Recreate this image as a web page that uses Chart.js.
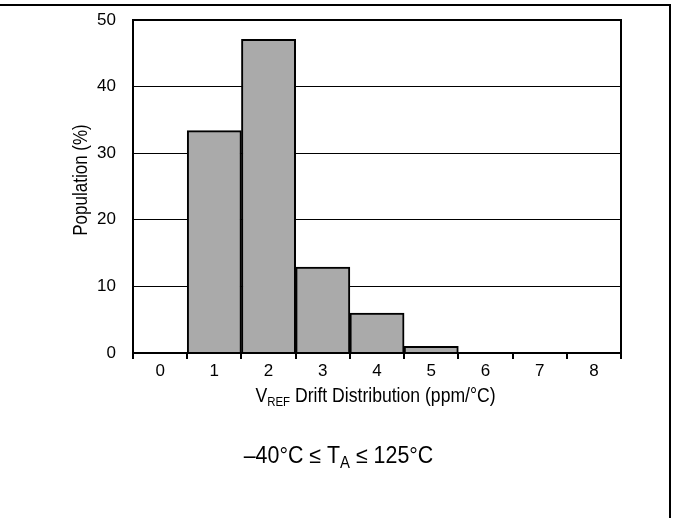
<!DOCTYPE html>
<html lang="en">
<head>
  <meta charset="UTF-8" />
  <title>VREF Drift Distribution</title>
  <script src="https://cdn.jsdelivr.net/npm/chart.js"></script>
  <style>
    * { box-sizing: border-box; margin: 0; padding: 0; }
    html, body { width: 673px; height: 518px; background: #fff; overflow: hidden; }
    canvas { display: block; }
  </style>
</head>
<body>
  <canvas id="drift" width="673" height="518"></canvas>

  <script>
    // data
    const driftBins = ['0', '1', '2', '3', '4', '5', '6', '7', '8'];
    const population = [0, 33.4, 47.1, 12.9, 6.0, 1.0, 0, 0, 0];
    const yTicks = [0, 10, 20, 30, 40, 50];

    const FONT = "'Liberation Sans', Arial, sans-serif";

    // text made of [string, size, baseline shift] pieces, centred on cx,
    // squeezed horizontally by sx (the original uses a narrow face)
    function drawSub(ctx, parts, cx, base, sx) {
      let w = 0;
      parts.forEach(p => { ctx.font = p[1] + 'px ' + FONT; w += ctx.measureText(p[0]).width; });
      ctx.save();
      ctx.translate(cx, base);
      ctx.scale(sx, 1);
      let x = -w / 2;
      ctx.textAlign = 'left';
      ctx.textBaseline = 'alphabetic';
      parts.forEach(p => {
        ctx.font = p[1] + 'px ' + FONT;
        ctx.fillText(p[0], x, p[2]);
        x += ctx.measureText(p[0]).width;
      });
      ctx.restore();
    }

    // frame, plot border, axis titles with subscripts, condition note
    const decor = {
      id: 'decor',
      afterDraw(chart) {
        const { ctx, chartArea: a } = chart;
        ctx.save();
        ctx.strokeStyle = '#000';
        ctx.lineWidth = 2;
        // page frame (top + right)
        ctx.beginPath();
        ctx.moveTo(0, 5);
        ctx.lineTo(670, 5);
        ctx.lineTo(670, 518);
        ctx.stroke();
        // plot box
        ctx.strokeRect(a.left, a.top, a.right - a.left, a.bottom - a.top);

        ctx.fillStyle = '#000';
        ctx.save();
        ctx.translate(87, 180);
        ctx.rotate(-Math.PI / 2);
        drawSub(ctx, [['Population (%)', 20, 0]], 0, 0, 0.85);
        ctx.restore();

        drawSub(ctx, [['V', 20, 0], ['REF', 13, 4], [' Drift Distribution (ppm/°C)', 20, 0]], 375.5, 401.5, 0.88);
        drawSub(ctx, [['–40°C ≤ T', 23, 0], ['A', 16, 5], [' ≤ 125°C', 23, 0]], 338.5, 463, 0.93);
        ctx.restore();
      }
    };

    new Chart(document.getElementById('drift'), {
      type: 'bar',
      data: {
        labels: driftBins,
        datasets: [{
          data: population,
          backgroundColor: '#aaaaaa',
          borderColor: '#000',
          borderWidth: 2,
          borderSkipped: 'bottom',
          barPercentage: 1,
          categoryPercentage: 1
        }]
      },
      options: {
        responsive: false,
        animation: false,
        devicePixelRatio: 1,
        layout: { padding: { top: 20, right: 52, left: 0, bottom: 0 } },
        plugins: { legend: { display: false }, tooltip: { enabled: false } },
        scales: {
          x: {
            grid: { offset: true, drawOnChartArea: false, drawTicks: true, tickLength: 6, color: '#000', lineWidth: 2 },
            border: { color: '#000', width: 2 },
            ticks: { color: '#000', font: { family: FONT, size: 17 }, padding: 2, maxRotation: 0 },
            afterFit(s) { s.height = 165; s.paddingLeft = 0; s.paddingRight = 0; }
          },
          y: {
            min: 0,
            max: 50,
            afterBuildTicks(s) { s.ticks = yTicks.map(v => ({ value: v })); },
            grid: { color: '#000', lineWidth: 1, drawTicks: false },
            border: { color: '#000', width: 2 },
            ticks: { color: '#000', font: { family: FONT, size: 17 }, padding: 17 },
            afterFit(s) { s.width = 133; s.paddingTop = 0; s.paddingBottom = 0; }
          }
        }
      },
      plugins: [decor]
    });
  </script>
</body>
</html>
